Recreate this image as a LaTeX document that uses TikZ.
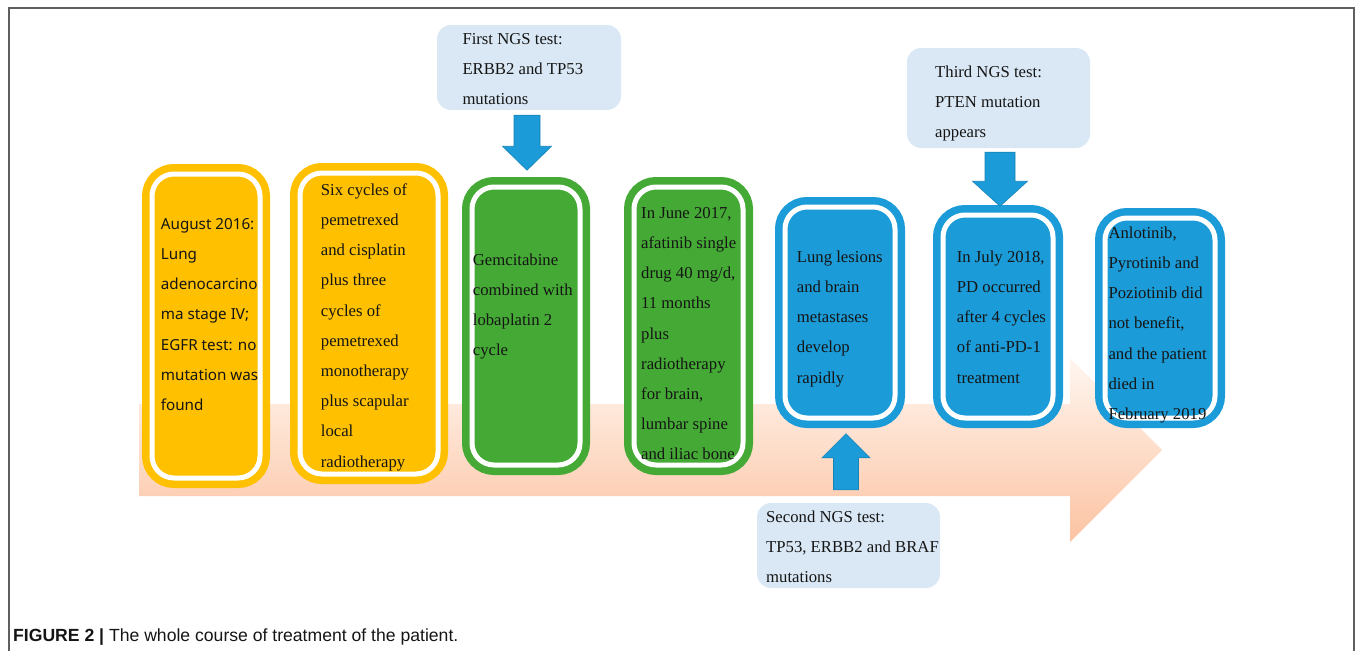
\documentclass[tikz,border=0pt]{standalone}
\usepackage{fontspec}
\setmainfont{Liberation Serif}
\newfontfamily\sansf{Noto Sans}
\newfontfamily\capf{Liberation Sans}
\usetikzlibrary{calc}
\definecolor{cyel}{HTML}{FFC000}
\definecolor{cgrn}{HTML}{44AA35}
\definecolor{cblu}{HTML}{1B9BD7}
\definecolor{cngs}{HTML}{DAE8F5}
\definecolor{cpa}{HTML}{FFF6F0}
\definecolor{cpb}{HTML}{FED9C4}
\definecolor{cpc}{HTML}{FCC3A2}
\definecolor{cframe}{HTML}{5F5F5F}
\definecolor{ctext}{HTML}{151515}
\begin{document}
\begin{tikzpicture}[x=1pt,y=-1pt,
 tbox/.style={draw=#1, fill=#1, double=white, double distance=5pt, line width=7.5pt, rounded corners=22pt, inner sep=0pt},
 ngsbox/.style={fill=cngs, rounded corners=14pt, inner sep=0pt},
 txt/.style={anchor=north west, inner sep=0pt, align=left, text=ctext, font=\fontsize{16.7}{30.2}\selectfont},
 stxt/.style={txt, font=\sansf\fontsize{15.2}{30.2}\selectfont},
 barrow/.style={fill=cblu, draw=cblu!85!black, line width=0.6pt, line join=miter}]
\useasboundingbox (0,0) rectangle (1355,651);
% frame
\draw[cframe, line width=1.3pt] (9,651) -- (9,8) -- (1354,8) -- (1354,651);
% big timeline arrow
\shade[top color=cpa, middle color=cpb, bottom color=cpc]
 (139,404) -- (1070,404) -- (1070,358) -- (1162,450) -- (1070,542) -- (1070,496) -- (139,496) -- cycle;
% treatment boxes
\node[tbox=cyel, minimum width=108pt, minimum height=304pt] (b1) at (206,326) {};
\node[tbox=cyel, minimum width=138pt, minimum height=301pt] (b2) at (369,323.5) {};
\node[tbox=cgrn, minimum width=108pt, minimum height=278pt] (b3) at (526,326) {};
\node[tbox=cgrn, minimum width=109pt, minimum height=278pt] (b4) at (688.5,326) {};
\node[tbox=cblu, minimum width=110pt, minimum height=211pt] (b5) at (840,312.5) {};
\node[tbox=cblu, minimum width=110pt, minimum height=203pt] (b6) at (998,316.5) {};
\node[tbox=cblu, minimum width=110pt, minimum height=200pt] (b7) at (1160,318) {};
% NGS boxes
\node[ngsbox, minimum width=184pt, minimum height=85pt] (ngs1) at (529,67.5) {};
\node[ngsbox, minimum width=183pt, minimum height=100pt] (ngs3) at (998.5,98) {};
\node[ngsbox, minimum width=183pt, minimum height=85pt] (ngs2) at (848.5,545.5) {};
% texts
\node[stxt] (t1) at (160.7,209) {\rule{0pt}{20pt}August 2016:\\Lung\\adenocarcino\\ma stage IV;\\EGFR test: no\\mutation was\\found};
\node[txt] (t2) at (320.7,175) {\rule{0pt}{20pt}Six cycles of\\pemetrexed\\and cisplatin\\plus three\\cycles of\\pemetrexed\\monotherapy\\plus scapular\\local\\radiotherapy};
\node[txt] (t3) at (472.7,245) {\rule{0pt}{20pt}Gemcitabine\\combined with\\lobaplatin 2\\cycle};
\node[txt] (t4) at (641,198) {\rule{0pt}{20pt}In June 2017,\\afatinib single\\drug 40 mg/d,\\11 months\\plus\\radiotherapy\\for brain,\\lumbar spine\\and iliac bone};
\node[txt] (t5) at (796.7,242) {\rule{0pt}{20pt}Lung lesions\\and brain\\metastases\\develop\\rapidly};
\node[txt] (t6) at (956.7,242) {\rule{0pt}{20pt}In July 2018,\\PD occurred\\after 4 cycles\\of anti-PD-1\\treatment};
\node[txt] (t7) at (1108.3,218) {\rule{0pt}{20pt}Anlotinib,\\Pyrotinib and\\Poziotinib did\\not benefit,\\and the patient\\died in\\February 2019};
\node[txt] (n1) at (462.3,24) {\rule{0pt}{20pt}First NGS test:\\ERBB2 and TP53\\mutations};
\node[txt] (n3) at (935,57) {\rule{0pt}{20pt}Third NGS test:\\PTEN mutation\\appears};
\node[txt] (n2) at (766,502) {\rule{0pt}{20pt}Second NGS test:\\TP53, ERBB2 and BRAF\\mutations};
% block arrows
\coordinate (a1s) at ($(ngs1.south -| b3.north)+(1,5)$);
\coordinate (a1e) at ($(b3.north)+(1,-13)$);
\draw[barrow] ($(a1s)+(-13,0)$) -- ($(a1e)+(-13,-24)$) -- ($(a1e)+(-24.5,-24)$) -- (a1e)
 -- ($(a1e)+(24.5,-24)$) -- ($(a1e)+(13,-24)$) -- ($(a1s)+(13,0)$) -- cycle;
\coordinate (a2s) at ($(ngs2.north)+(-2.5,-13)$);
\coordinate (a2e) at ($(b5.south -| ngs2.north)+(-2.5,12)$);
\draw[barrow] ($(a2s)+(-12.5,0)$) -- ($(a2e)+(-12.5,24)$) -- ($(a2e)+(-24,24)$) -- (a2e)
 -- ($(a2e)+(24,24)$) -- ($(a2e)+(12.5,24)$) -- ($(a2s)+(12.5,0)$) -- cycle;
\coordinate (a3s) at ($(ngs3.south -| b6.north)+(2,4)$);
\coordinate (a3e) at ($(b6.north)+(2,-5)$);
\draw[barrow] ($(a3s)+(-15,0)$) -- ($(a3e)+(-15,-25)$) -- ($(a3e)+(-27.5,-25)$) -- (a3e)
 -- ($(a3e)+(27.5,-25)$) -- ($(a3e)+(15,-25)$) -- ($(a3s)+(15,0)$) -- cycle;
% caption
\node[anchor=base west, inner sep=0pt, text=ctext, font=\capf\fontsize{17.6}{20}\selectfont] (cap) at (13,641) {\textbf{FIGURE 2 |} The whole course of treatment of the patient.};
\end{tikzpicture}
\end{document}
